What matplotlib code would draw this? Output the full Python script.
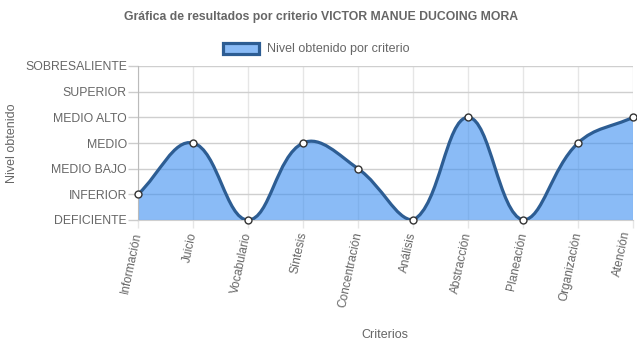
import numpy as np
import matplotlib
matplotlib.use("Agg")
from matplotlib import pyplot as plt
from matplotlib.path import Path
from matplotlib.patches import PathPatch, Patch

plt.rcParams['font.family'] = ['Liberation Sans', 'DejaVu Sans']

criterios = ['Información', 'Juicio', 'Vocabulario', 'Síntesis', 'Concentración',
             'Análisis', 'Abstracción', 'Planeación', 'Organización', 'Atención']
niveles = ['DEFICIENTE', 'INFERIOR', 'MEDIO BAJO', 'MEDIO', 'MEDIO ALTO',
           'SUPERIOR', 'SOBRESALIENTE']
valores = [1, 3, 0, 3, 2, 0, 4, 0, 3, 4]

LINE = '#2d5d93'
FILL = (0.24, 0.56, 0.94, 0.6)
TXT = '#666666'


def spline_controls(pts, tension=0.4):
    # bezier control points in the style of Chart.js splineCurve
    n = len(pts)
    ctrl = []
    for i in range(n):
        p1 = pts[i]
        p0 = pts[i - 1] if i > 0 else p1
        p2 = pts[i + 1] if i < n - 1 else p1
        d01 = np.hypot(*(p1 - p0))
        d12 = np.hypot(*(p2 - p1))
        tot = d01 + d12
        s01 = d01 / tot if tot else 0
        s12 = d12 / tot if tot else 0
        fa, fb = tension * s01, tension * s12
        ctrl.append((p1 - fa * (p2 - p0), p1 + fb * (p2 - p0)))
    return ctrl


def plot_niveles():
    fig = plt.figure(figsize=(6.37, 3.48), dpi=100)
    ax = fig.add_axes([138 / 637, 1 - 220 / 348, 495 / 637, 154 / 348])

    x = np.arange(len(criterios))
    y = np.array(valores, dtype=float)
    ax.set_xlim(0, len(criterios) - 1)
    ax.set_ylim(0, len(niveles) - 1)

    # work in pixels so the curve bends like the canvas version
    tr = ax.transData
    pix = tr.transform(np.column_stack([x, y]))
    ctrl = spline_controls(pix)
    box = ax.bbox
    verts = [pix[0]]
    codes = [Path.MOVETO]
    for i in range(len(pix) - 1):
        c1 = ctrl[i][1].copy()
        c2 = ctrl[i + 1][0].copy()
        for c in (c1, c2):
            c[0] = np.clip(c[0], box.x0, box.x1)
            c[1] = np.clip(c[1], box.y0, box.y1)
        verts += [c1, c2, pix[i + 1]]
        codes += [Path.CURVE4] * 3
    inv = tr.inverted()
    dverts = inv.transform(np.array(verts))

    fill_verts = np.vstack([dverts, [[x[-1], 0], [x[0], 0], dverts[0]]])
    fill_codes = codes + [Path.LINETO, Path.LINETO, Path.CLOSEPOLY]
    ax.add_patch(PathPatch(Path(fill_verts, fill_codes), facecolor=FILL,
                           edgecolor='none', zorder=2))
    ax.add_patch(PathPatch(Path(dverts, codes), facecolor='none',
                           edgecolor=LINE, lw=2.3, zorder=3))
    ax.plot(x, y, 'o', ms=5, mfc='white', mec='#333333', mew=1, zorder=4,
            clip_on=False)

    ax.set_yticks(range(len(niveles)))
    ax.set_yticklabels(niveles, fontsize=8.8, color=TXT)
    ax.set_xticks(x)
    ax.set_xticklabels(criterios, fontsize=8.6, color=TXT, rotation=78,
                       rotation_mode='anchor', ha='right', va='center')
    ax.tick_params(axis='y', length=7, width=1, color='#cccccc', pad=1)
    ax.tick_params(axis='x', length=6, width=1, color='#e6e6e6', pad=3)
    # keep the last rotated label inside the canvas
    ax.get_xticklabels()[-1].set_va('bottom')

    ax.grid(axis='y', color='#cfcfcf', lw=1)
    ax.grid(axis='x', color='#e6e6e6', lw=1)
    ax.set_axisbelow(True)
    for s in ax.spines.values():
        s.set_visible(False)
    ax.spines['left'].set_visible(True)
    ax.spines['left'].set_color('#bbbbbb')
    ax.spines['bottom'].set_visible(True)
    ax.spines['bottom'].set_color('#cfcfcf')

    fig.text(321 / 637, 1 - 17 / 348, 'Gráfica de resultados por criterio VICTOR MANUE DUCOING MORA',
             ha='center', va='center', fontsize=8.8, fontweight='bold', color=TXT)
    fig.text(12 / 637, 1 - 143 / 348, 'Nivel obtenido', rotation=90,
             ha='center', va='center', fontsize=9, color=TXT)
    fig.text(385 / 637, 1 - 335 / 348, 'Criterios', ha='center', va='center',
             fontsize=9, color=TXT)

    handle = Patch(facecolor=FILL, edgecolor=LINE, lw=2.3)
    fig.legend([handle], ['Nivel obtenido por criterio'], loc='center',
               bbox_to_anchor=(316 / 637, 1 - 49 / 348), frameon=False,
               fontsize=9, labelcolor=TXT, handlelength=2.9, handleheight=1.0,
               handletextpad=0.6)

    fig.savefig('out.png', dpi=100)


if __name__ == "__main__":
    plot_niveles()
